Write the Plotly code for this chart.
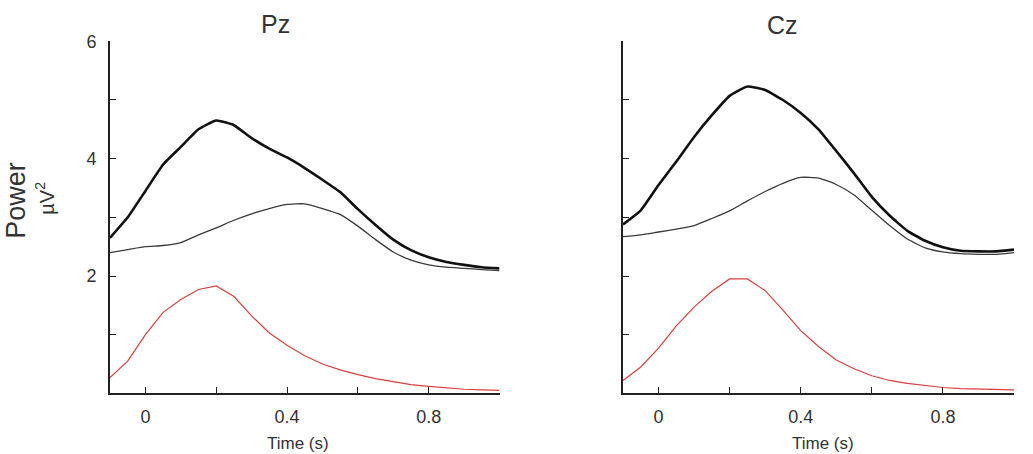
import plotly.graph_objects as go
from plotly.subplots import make_subplots

time_s = [-0.10, -0.05, 0.00, 0.05, 0.10, 0.15, 0.20, 0.25, 0.30, 0.35, 0.40, 0.45,
          0.50, 0.55, 0.60, 0.65, 0.70, 0.75, 0.80, 0.85, 0.90, 0.95, 1.00]

pz_total = [2.65, 3.00, 3.45, 3.90, 4.20, 4.50, 4.65, 4.57, 4.35, 4.17, 4.02, 3.84,
            3.64, 3.43, 3.14, 2.87, 2.62, 2.44, 2.32, 2.24, 2.19, 2.15, 2.13]
pz_thin = [2.40, 2.45, 2.50, 2.52, 2.57, 2.70, 2.82, 2.95, 3.06, 3.15, 3.22, 3.23,
           3.15, 3.05, 2.85, 2.62, 2.41, 2.27, 2.19, 2.15, 2.13, 2.11, 2.09]
pz_red = [0.27, 0.55, 1.00, 1.38, 1.60, 1.77, 1.83, 1.65, 1.32, 1.03, 0.82, 0.64,
          0.50, 0.40, 0.32, 0.25, 0.20, 0.15, 0.12, 0.09, 0.07, 0.06, 0.05]

cz_total = [2.88, 3.12, 3.55, 3.95, 4.37, 4.74, 5.07, 5.23, 5.17, 5.00, 4.78, 4.50,
            4.13, 3.75, 3.35, 3.03, 2.77, 2.60, 2.49, 2.43, 2.42, 2.42, 2.45]
cz_thin = [2.67, 2.70, 2.75, 2.80, 2.86, 2.98, 3.11, 3.28, 3.44, 3.58, 3.68, 3.67,
           3.56, 3.38, 3.12, 2.86, 2.63, 2.48, 2.41, 2.38, 2.37, 2.37, 2.40]
cz_red = [0.22, 0.45, 0.77, 1.15, 1.47, 1.74, 1.95, 1.95, 1.75, 1.42, 1.07, 0.80,
          0.57, 0.42, 0.30, 0.22, 0.17, 0.13, 0.10, 0.08, 0.07, 0.07, 0.06]

panel_titles = ["Pz", "Cz"]
x_tickvals = [0, 0.2, 0.4, 0.6, 0.8, 1.0]
x_ticktext = ["0", "", "0.4", "", "0.8", ""]
y_tickvals = [1, 2, 3, 4, 5, 6]
y_ticktext_left = ["", "2", "", "4", "", "6"]
y_ticktext_right = ["", "", "", "", "", ""]

W, H = 1033, 454
FONT = "Liberation Sans, Arial, sans-serif"

fig = make_subplots(rows=1, cols=2)

panels = [(pz_total, pz_thin, pz_red), (cz_total, cz_thin, cz_red)]
for i, (tot, thin, red) in enumerate(panels, start=1):
    fig.add_trace(go.Scatter(x=time_s, y=thin, mode="lines",
                             line=dict(color="#3a3a3a", width=1.3,
                                       shape="spline", smoothing=0.5),
                             showlegend=False), row=1, col=i)
    fig.add_trace(go.Scatter(x=time_s, y=tot, mode="lines",
                             line=dict(color="#111111", width=2.6,
                                       shape="spline", smoothing=0.4),
                             showlegend=False), row=1, col=i)
    fig.add_trace(go.Scatter(x=time_s, y=red, mode="lines",
                             line=dict(color="#d9413f", width=1.2),
                             showlegend=False), row=1, col=i)

ydom = [(H - 392) / H, (H - 32) / H]
xdoms = [[110 / W, 499.5 / W], [623 / W, 1014 / W]]

for i in (1, 2):
    fig.update_xaxes(row=1, col=i, domain=xdoms[i - 1], range=[-0.1, 1.0],
                     tickvals=x_tickvals, ticktext=x_ticktext,
                     ticks="inside", ticklen=6, tickwidth=1.2, tickcolor="#222",
                     showline=True, linecolor="#222", linewidth=1.8,
                     showgrid=False, zeroline=False,
                     tickfont=dict(family=FONT, size=18, color="#333"),
                     ticklabelstandoff=6)
    fig.update_yaxes(row=1, col=i, domain=ydom, range=[0, 6],
                     tickvals=y_tickvals,
                     ticktext=y_ticktext_left if i == 1 else y_ticktext_right,
                     ticks="inside", ticklen=6, tickwidth=1.2, tickcolor="#222",
                     showline=True, linecolor="#222", linewidth=1.8,
                     showgrid=False, zeroline=False,
                     tickfont=dict(family=FONT, size=18, color="#333"),
                     ticklabelstandoff=8)

annos = [
    dict(text=panel_titles[0], x=275 / W, y=1 - 14 / H, font=dict(size=25)),
    dict(text=panel_titles[1], x=782 / W, y=1 - 15 / H, font=dict(size=25)),
    dict(text="Time (s)", x=298 / W, y=1 - 443 / H, font=dict(size=17)),
    dict(text="Time (s)", x=823 / W, y=1 - 443 / H, font=dict(size=17)),
    dict(text="Power", x=16 / W, y=1 - 195 / H, font=dict(size=27), textangle=-90),
    dict(text="µV<sup>2</sup>", x=45 / W, y=1 - 193 / H, font=dict(size=20), textangle=-90),
]
for a in annos:
    a.update(xref="paper", yref="paper", xanchor="center", yanchor="middle",
             showarrow=False)
    a["font"].update(family=FONT, color="#333")
    fig.add_annotation(**a)

fig.update_layout(width=W, height=H, margin=dict(l=0, r=0, t=0, b=0),
                  plot_bgcolor="white", paper_bgcolor="white")

fig.write_html("out.html")
